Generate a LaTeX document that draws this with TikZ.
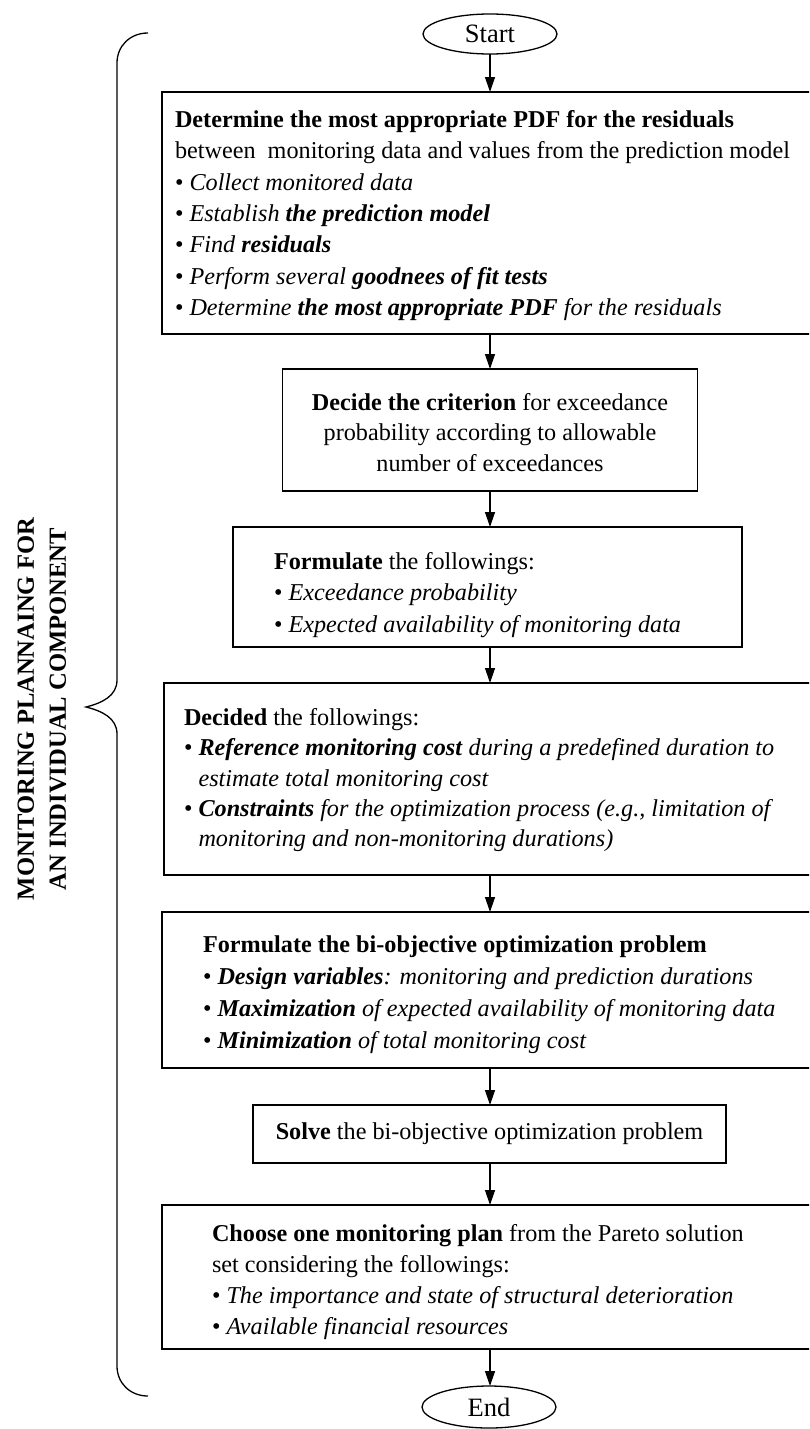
\documentclass[tikz,border=0pt]{standalone}
\usepackage{fontspec}
\setmainfont{Liberation Serif}
\usetikzlibrary{arrows.meta,shapes.geometric}
\newcommand{\bul}{\textup{•}\ }
\newcommand{\ind}{\phantom{•}\ }
\begin{document}
\begin{tikzpicture}[x=1pt,y=-1pt,
  box/.style={draw, line width=1.3pt, inner sep=0pt, outer sep=0pt, rectangle, font=\fontsize{24.2}{31}\selectfont},
  term/.style={draw, line width=1.3pt, ellipse, inner sep=0pt, outer sep=0pt, minimum width=134pt, minimum height=40pt, font=\fontsize{26.5}{30}\selectfont},
  txt/.style={inner sep=0pt, outer sep=0pt, align=left, anchor=north west},
  flow/.style={-{Triangle[length=15pt,width=10pt]}, line width=1.3pt},
  brace/.style={line width=1.3pt},
  sidelabel/.style={inner sep=0pt, align=center, rotate=90, font=\fontsize{24.6}{32}\selectfont\bfseries}
]
\clip (0,0) rectangle (809,1429);
% terminals
\node[term] (start) at (490,34) {Start};
\node[term, minimum height=42pt] (end) at (489,1407) {End};
% boxes
\node[box, minimum width=656pt, minimum height=242pt] (b1) at (490,213) {};
\node[box, minimum width=415pt, minimum height=122pt] (b2) at (490,430) {};
\node[box, minimum width=509pt, minimum height=120pt] (b3) at (487.5,587) {};
\node[box, minimum width=652pt, minimum height=192pt] (b4) at (490,779) {};
\node[box, minimum width=656pt, minimum height=156pt] (b5) at (490,990) {};
\node[box, minimum width=473pt, minimum height=58pt] (b6) at (489.5,1134) {\textbf{Solve} the bi-objective optimization problem};
\node[box, minimum width=656pt, minimum height=144pt] (b7) at (490,1277) {};
% texts
\node[txt, font=\fontsize{24.2}{31.3}\selectfont] (t1) at (175,110.5) {\textbf{Determine the most appropriate PDF for the residuals}\\
between\ \ monitoring data and values from the prediction model\\
\bul\textit{Collect monitored data}\\
\bul\textit{Establish \textbf{the prediction model}}\\
\bul\textit{Find \textbf{residuals}}\\
\bul\textit{Perform several \textbf{goodnees of fit tests}}\\
\bul\textit{Determine \textbf{the most appropriate PDF} for the residuals}};
\node[txt, align=center, anchor=north, font=\fontsize{24.2}{30.5}\selectfont] (t2) at (490,393) {\textbf{Decide the criterion} for exceedance\\
probability according to allowable\\
number of exceedances};
\node[txt, font=\fontsize{24.2}{31.5}\selectfont] (t3) at (274,552) {\textbf{Formulate} the followings:\\
\bul\textit{Exceedance probability}\\
\bul\textit{Expected availability of monitoring data}};
\node[txt, font=\fontsize{24.2}{30.3}\selectfont] (t4) at (184,708.5) {\textbf{Decided} the followings:\\
\bul\textbf{\textit{Reference monitoring cost}} \textit{during a predefined duration to}\\
\ind\textit{estimate total monitoring cost}\\
\bul\textbf{\textit{Constraints}} \textit{for the optimization process (e.g., limitation of}\\
\ind\textit{monitoring and non-monitoring durations)}};
\node[txt, font=\fontsize{24.2}{32}\selectfont] (t5) at (203,935.5) {\textbf{Formulate the bi-objective optimization problem}\\
\bul\textbf{\textit{Design variables}}\textit{: monitoring and prediction durations}\\
\bul\textbf{\textit{Maximization}} \textit{of expected availability of monitoring data}\\
\bul\textbf{\textit{Minimization}} \textit{of total monitoring cost}};
\node[txt, font=\fontsize{24.2}{31.3}\selectfont] (t7) at (212,1224) {\textbf{Choose one monitoring plan} from the Pareto solution\\
set considering the followings:\\
\bul\textit{The importance and state of structural deterioration}\\
\bul\textit{Available financial resources}};
% connectors
\draw[flow] (start.south) -- (start.south |- b1.north);
\draw[flow] (b1.south) -- (b1.south |- b2.north);
\draw[flow] (b2.south) -- (b2.south |- b3.north);
\draw[flow] (b2.south |- b3.south) -- (b2.south |- b4.north);
\draw[flow] (b4.south) -- (b4.south |- b5.north);
\draw[flow] (b5.south) -- (b5.south |- b6.north);
\draw[flow] (b5.south |- b6.south) -- (b5.south |- b7.north);
\draw[flow] (b7.south) -- (b7.south |- end.north);
% brace
\draw[brace] (148,33) .. controls (130,33) and (117,46) .. (117,63)
  -- (117,680) .. controls (117,696) and (102,703) .. (86,707)
  .. controls (102,711) and (117,718) .. (117,734)
  -- (117,1366) .. controls (117,1383) and (130,1396) .. (148,1396);
\node[sidelabel] (lbl) at (42,709) {MONITORING PLANNAING FOR\\AN INDIVIDUAL COMPONENT};
\end{tikzpicture}
\end{document}
